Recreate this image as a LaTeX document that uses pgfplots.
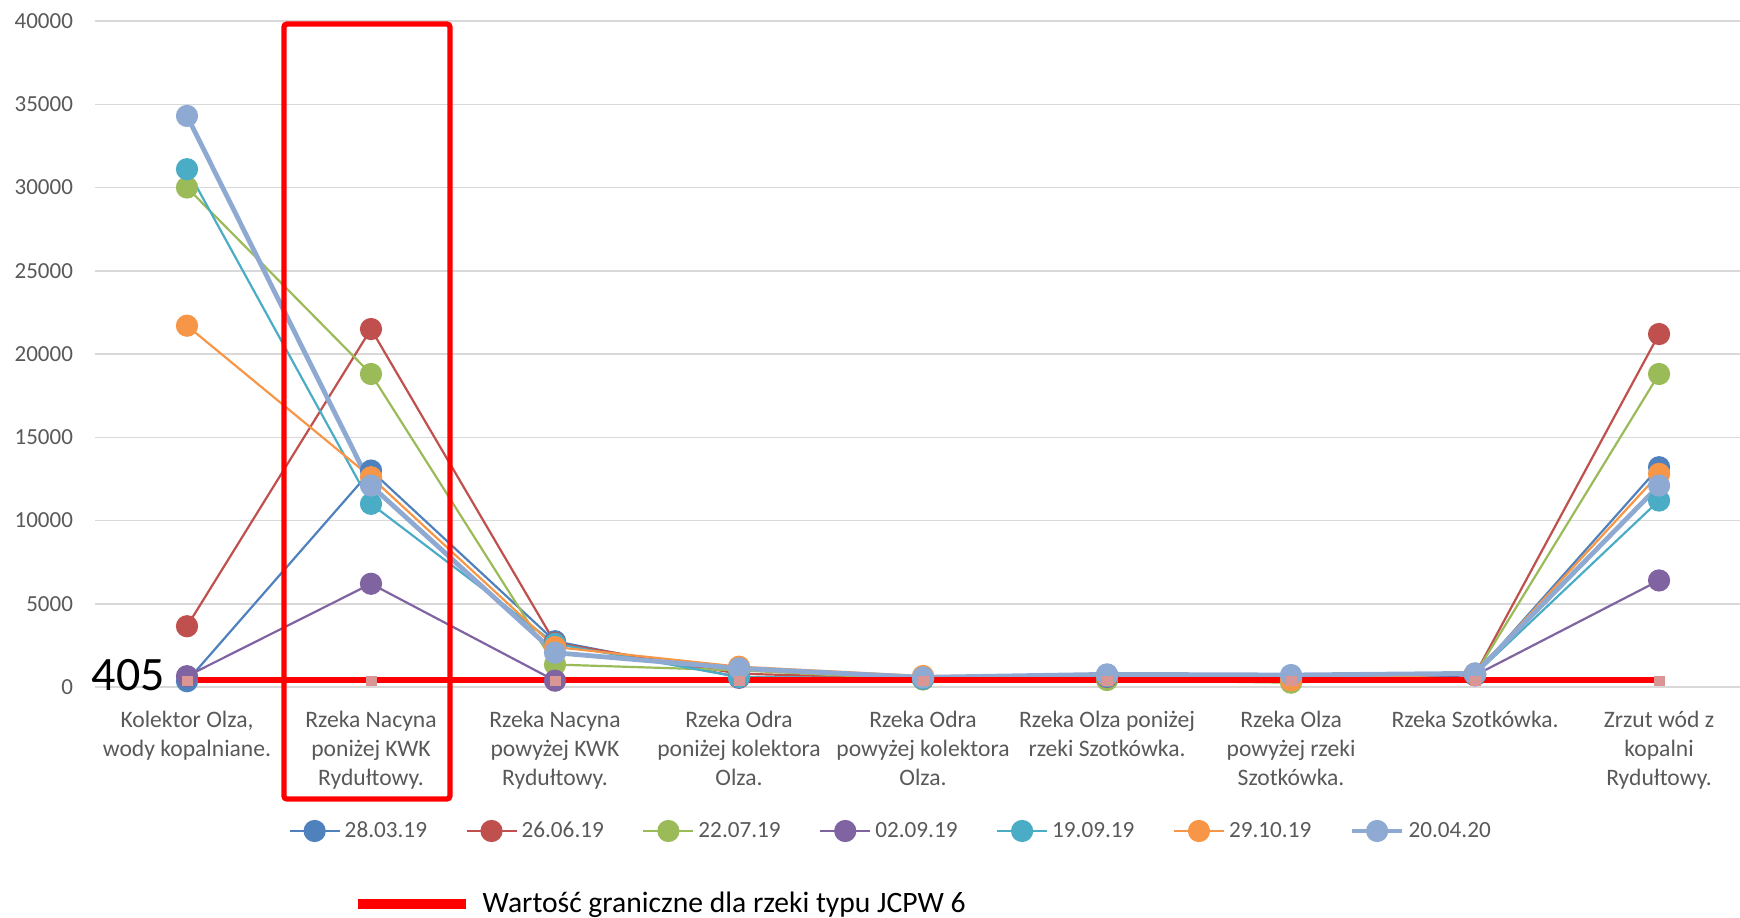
\documentclass[border=0pt]{standalone}
\usepackage{pgfplots}
\pgfplotsset{compat=1.18}
\usepackage{fontspec}
\setmainfont{Carlito}

\definecolor{cA}{HTML}{4F81BD}
\definecolor{cB}{HTML}{C0504D}
\definecolor{cC}{HTML}{9BBB59}
\definecolor{cD}{HTML}{8064A2}
\definecolor{cE}{HTML}{4BACC6}
\definecolor{cF}{HTML}{F79646}
\definecolor{cG}{HTML}{8FAAD2}
\definecolor{gridgray}{HTML}{D9D9D9}
\definecolor{txtgray}{HTML}{595959}
\definecolor{limitmark}{HTML}{D99694}

\begin{document}
\begin{tikzpicture}
\path[use as bounding box] (-47.5pt,-115pt) rectangle (822.5pt,343.5pt);
\begin{axis}[
  at={(0,0)}, anchor=south west,
  width=822.5pt, height=333pt, scale only axis,
  xmin=-0.5, xmax=8.44, ymin=0, ymax=40000,
  xtick={0,...,8},
  xticklabels={
    {Kolektor Olza,\\wody kopalniane.},
    {Rzeka Nacyna\\poniżej KWK\\Rydułtowy.},
    {Rzeka Nacyna\\powyżej KWK\\Rydułtowy.},
    {Rzeka Odra\\poniżej  kolektora\\Olza.},
    {Rzeka Odra\\powyżej  kolektora\\Olza.},
    {Rzeka Olza poniżej\\rzeki Szotkówka.},
    {Rzeka Olza\\powyżej  rzeki\\Szotkówka.},
    {Rzeka Szotkówka.},
    {Zrzut wód z\\kopalni\\Rydułtowy.}},
  ytick={0,5000,...,40000},
  ymajorgrids, grid style={gridgray, line width=0.75pt},
  axis line style={draw=none}, major tick length=0pt,
  /pgf/number format/assume math mode=true,
  /pgf/number format/set thousands separator={},
  scaled y ticks=false,
  yticklabel style={font=\fontsize{11.5}{14}\selectfont, text=txtgray, xshift=-7.5pt},
  xticklabel style={font=\fontsize{11.8}{14.7}\selectfont, text=txtgray, align=center, anchor=north, yshift=-8.3pt},
  clip=false,
  legend style={at={(0.4843,-0.2162)}, anchor=center, draw=none, fill=none,
    legend columns=7, font=\fontsize{11.6}{14}\selectfont, text=txtgray,
    /tikz/every even column/.append style={column sep=17.2pt}},
  legend image code/.code={\draw[mark repeat=2, mark phase=2] plot coordinates {(0pt,0pt) (12.5pt,0pt) (25pt,0pt)};},
  every axis plot/.append style={line width=1.1pt, mark=*, mark size=5pt, mark options={solid}},
]
% 28.03.19
\addplot[cA, mark options={fill=cA, draw=cA}] coordinates {(0,350) (1,13000) (2,2750) (3,600) (4,500) (5,650) (6,550) (7,750) (8,13200)};
\addlegendentry{28.03.19}
% 26.06.19
\addplot[cB, mark options={fill=cB, draw=cB}] coordinates {(0,3650) (1,21500) (2,2650) (3,800) (4,500) (5,650) (6,550) (7,750) (8,21200)};
\addlegendentry{26.06.19}
% 22.07.19
\addplot[cC, mark options={fill=cC, draw=cC}] coordinates {(0,30000) (1,18800) (2,1350) (3,1000) (4,450) (5,420) (6,260) (7,750) (8,18800)};
\addlegendentry{22.07.19}
% 02.09.19
\addplot[cD, mark options={fill=cD, draw=cD}] coordinates {(0,650) (1,6200) (2,380) (3,550) (4,500) (5,600) (6,500) (7,700) (8,6400)};
\addlegendentry{02.09.19}
% 19.09.19
\addplot[cE, mark options={fill=cE, draw=cE}] coordinates {(0,31100) (1,11000) (2,2600) (3,600) (4,500) (5,650) (6,550) (7,750) (8,11200)};
\addlegendentry{19.09.19}
% 29.10.19
\addplot[cF, mark options={fill=cF, draw=cF}] coordinates {(0,21700) (1,12600) (2,2400) (3,1220) (4,660) (5,700) (6,400) (7,800) (8,12800)};
\addlegendentry{29.10.19}
% 20.04.20
\addplot[cG, line width=2.4pt, mark size=5.3pt, mark options={fill=cG, draw=cG, line width=0.5pt}] coordinates {(0,34300) (1,12100) (2,2060) (3,1120) (4,580) (5,760) (6,720) (7,820) (8,12100)};
\addlegendentry{20.04.20}
% limit value for the river type
\addplot[red, line width=3pt, mark=square*, mark size=2.3pt, mark options={fill=limitmark, draw=limitmark, line width=0.1pt}, forget plot] coordinates {(0,405) (1,405) (2,405) (3,405) (4,405) (5,405) (6,405) (7,405) (8,405)};
\node[anchor=base west, font=\fontsize{24}{28}\selectfont, inner sep=0pt] at (axis cs:-0.52,-180) {405};
\draw[red, line width=2.65pt, rounded corners=1.5pt] (axis cs:0.527,-6727) rectangle (axis cs:1.429,39820);
\end{axis}
\begin{axis}[
  at={(0,0)}, anchor=south west,
  width=822.5pt, height=333pt, scale only axis,
  hide axis, xmin=0, xmax=1, ymin=0, ymax=1,
  legend style={at={(0.1567,-0.3258)}, anchor=west, draw=none, fill=none, inner sep=0pt,
    font=\fontsize{14.8}{17}\selectfont, text=black,
    nodes={inner xsep=6pt}},
  legend image code/.code={\draw[red, line width=4.75pt] (0pt,0pt) -- (54pt,0pt);},
]
\addlegendimage{red}
\addlegendentry{Wartość graniczne dla rzeki typu JCPW 6}
\end{axis}
\end{tikzpicture}
\end{document}
